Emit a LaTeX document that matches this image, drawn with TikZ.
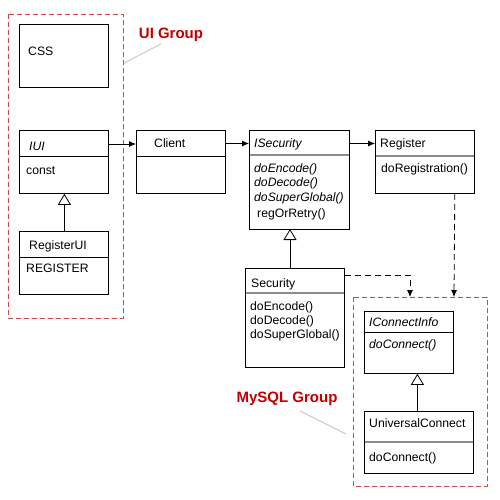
\documentclass[tikz,border=0pt]{standalone}
\usepackage{fontspec}
\setmainfont{Liberation Sans}
\usetikzlibrary{arrows.meta}
\definecolor{grpred}{HTML}{D04848}
\definecolor{lblred}{HTML}{C00000}
\begin{document}
\begin{tikzpicture}[x=1pt,y=-1pt,
  cls/.style={draw=black,line width=0.8pt,anchor=north west,inner sep=0pt,fill=white},
  txt/.style={anchor=base west,inner sep=0pt,font=\fontsize{12.2}{14}\selectfont},
  itxt/.style={txt,font=\fontsize{12.2}{14}\selectfont\itshape},
  thin/.style={draw=black,line width=0.8pt},
  thick/.style={draw=black!45,line width=2pt},
  arr/.style={draw=black,line width=0.8pt,-{Latex[length=7pt,width=6pt]}},
  darr/.style={draw=black,line width=0.8pt,dash pattern=on 6pt off 4pt,-{Latex[length=7pt,width=6pt]}},
  inh/.style={draw=black,line width=0.8pt,-{Triangle[open,length=11pt,width=13pt,line width=0.8pt]}},
  grp/.style={draw=grpred,line width=0.7pt,dash pattern=on 5pt off 3pt},
  lbl/.style={font=\fontsize{15}{17}\selectfont\bfseries,text=lblred,inner sep=0pt},
  lead/.style={draw=black!18,line width=1.2pt}]
\useasboundingbox[fill=white] (0,0) rectangle (500,500);

% groups
\draw[grp] (8,14) rectangle (123,318);
\draw[grp] (353,297) rectangle (487,486);
\coordinate (mtop1) at (410,297);
\coordinate (mtop2) at (454,297);
\coordinate (isecb) at (290,229);
\coordinate (sect) at (290,268);

% labels
\node[lbl] (uilbl) at (171,35) {UI Group};
\node[lbl] (mylbl) at (287,399) {MySQL Group};
\draw[lead] (124,63) -- (161,44);
\draw[lead] (300,411) -- (346,434);

% boxes
\node[cls,minimum width=89pt,minimum height=63pt] (css) at (19,24) {};
\node[cls,minimum width=89pt,minimum height=63pt] (iui) at (19,130) {};
\node[cls,minimum width=89pt,minimum height=63pt] (rui) at (19,231) {};
\node[cls,minimum width=89pt,minimum height=63pt] (client) at (136,130) {};
\node[cls,minimum width=100pt,minimum height=99pt] (isec) at (249,130) {};
\node[cls,minimum width=99pt,minimum height=63pt] (reg) at (375,130) {};
\node[cls,minimum width=99pt,minimum height=99pt] (sec) at (245,268) {};
\node[cls,minimum width=89pt,minimum height=62pt] (ici) at (364,311) {};
\node[cls,minimum width=109pt,minimum height=62pt] (uc) at (364,411) {};

% dividers
\draw[thin] ([yshift=-26pt]iui.north west) -- ([yshift=-26pt]iui.north east);
\draw[thin] ([yshift=-26pt]rui.north west) -- ([yshift=-26pt]rui.north east);
\draw[thin] ([yshift=-26pt]client.north west) -- ([yshift=-26pt]client.north east);
\draw[thick] ([yshift=-25pt]isec.north west) -- ([yshift=-25pt]isec.north east);
\draw[thick] ([yshift=-26pt]reg.north west) -- ([yshift=-26pt]reg.north east);
\draw[thick] ([yshift=-25pt]sec.north west) -- ([yshift=-25pt]sec.north east);
\draw[thin] ([yshift=-21pt]ici.north west) -- ([yshift=-21pt]ici.north east);
\draw[thick] ([yshift=-31pt]uc.north west) -- ([yshift=-31pt]uc.north east);
% redraw borders over thick dividers
\draw[line width=0.8pt] (isec.north west) rectangle (isec.south east);
\draw[line width=0.8pt] (reg.north west) rectangle (reg.south east);
\draw[line width=0.8pt] (sec.north west) rectangle (sec.south east);
\draw[line width=0.8pt] (uc.north west) rectangle (uc.south east);

% texts
\node[txt] (tcss) at (28,56) {CSS};
\node[itxt] (tiui) at (29,150) {IUI};
\node[txt] (tconst) at (26,174) {const};
\node[txt] (trui) at (29,249) {RegisterUI};
\node[txt] (treg1) at (26,272) {REGISTER};
\node[txt] (tcli) at (154,147.5) {Client};
\node[itxt] (tisec) at (254,147.5) {ISecurity};
\node[itxt] (tm1) at (254,172) {doEncode()};
\node[itxt] (tm2) at (254,186) {doDecode()};
\node[itxt] (tm3) at (254,201) {doSuperGlobal()};
\node[txt] (tm4) at (257,217) {regOrRetry()};
\node[txt] (treg) at (380,147.5) {Register};
\node[txt] (tdoreg) at (381,172) {doRegistration()};
\node[txt] (tsec) at (251,287) {Security};
\node[txt] (ts1) at (250,310) {doEncode()};
\node[txt] (ts2) at (250,324) {doDecode()};
\node[txt] (ts3) at (250,338) {doSuperGlobal()};
\node[itxt] (tici) at (369,326) {IConnectInfo};
\node[itxt] (tdoc1) at (369,348) {doConnect()};
\node[txt] (tuc) at (369,427) {UniversalConnect};
\node[txt] (tdoc2) at (369,461) {doConnect()};

% connectors
\draw[arr] ([yshift=-14pt]iui.north east) -- ([yshift=-14pt]client.north west);
\draw[arr] ([yshift=-13.5pt]client.north east) -- ([yshift=-13.5pt]isec.north west);
\draw[arr] ([yshift=-13.5pt]isec.north east) -- ([yshift=-13.5pt]reg.north west);
\draw[inh] ([xshift=0.5pt]rui.north) -- ([xshift=0.5pt]iui.south);
\draw[inh] (sect) -- (isecb);
\draw[darr] ([yshift=-7pt]sec.north east) -| (mtop1);
\draw[darr] ([xshift=-20pt]reg.south east) -- (mtop2);
\draw[inh] ([xshift=-1.5pt]uc.north) -- ([xshift=-1.5pt]uc.north |- ici.south);
\end{tikzpicture}
\end{document}
